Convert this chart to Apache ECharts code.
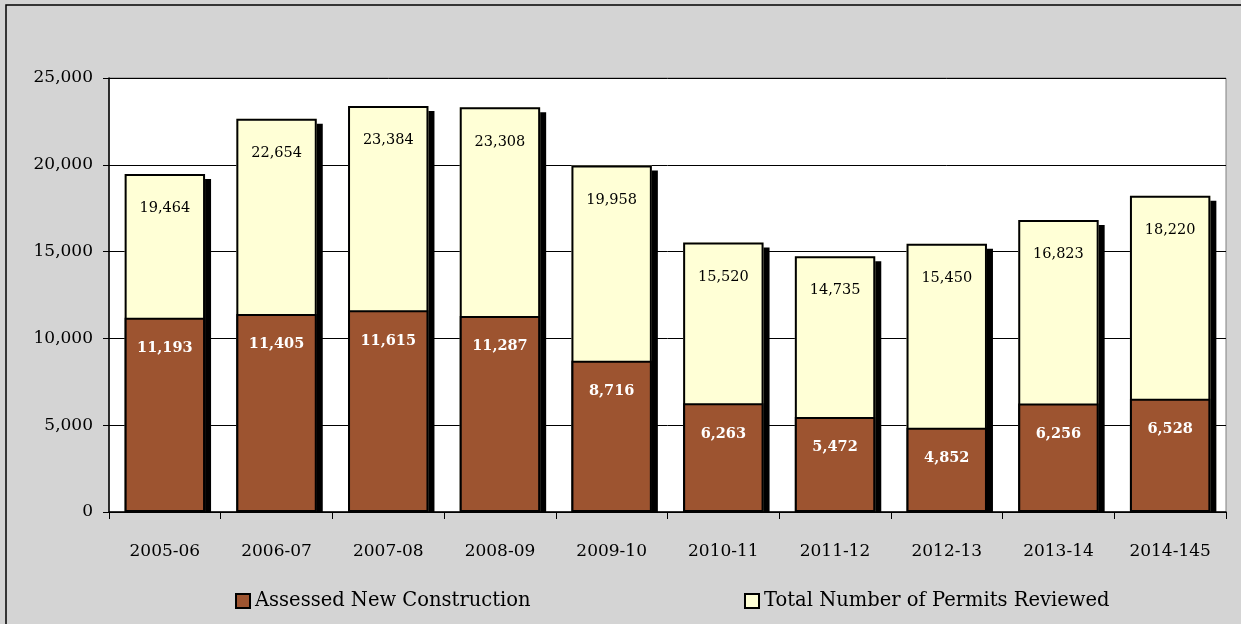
<!DOCTYPE html>
<html><head><meta charset="utf-8">
<script src="https://cdn.jsdelivr.net/npm/echarts@6/dist/echarts.min.js"></script>
<style>html,body{margin:0;padding:0;background:#d4d4d4}#c{width:1241px;height:624px}</style>
</head><body><div id="c"></div>
<script>
const categories = ['2005-06','2006-07','2007-08','2008-09','2009-10','2010-11','2011-12','2012-13','2013-14','2014-145'];
const assessedNew = [11193,11405,11615,11287,8716,6263,5472,4852,6256,6528];
const totalReviewed = [19464,22654,23384,23308,19958,15520,14735,15450,16823,18220];
const yTicks = {min:0, max:25000, interval:5000};
const FONT = '"DejaVu Serif", serif';
const fmt = v => v.toLocaleString('en-US');
const chart = echarts.init(document.getElementById('c'));
chart.setOption({
  backgroundColor:'#d4d4d4',
  animation:false,
  textStyle:{fontFamily:FONT},
  graphic:[
    {type:'rect',shape:{x:6,y:5,width:1260,height:640},style:{fill:'none',stroke:'#000',lineWidth:1.5},z:-1},
    {type:'rect',shape:{x:109,y:513,width:1120,height:8},style:{fill:'#d4d4d4'},z:5}
  ],
  grid:{left:109,right:15,top:78,bottom:112,show:true,backgroundColor:'#fff',borderColor:'#808080',borderWidth:1},
  legend:[
    {data:['Assessed New Construction'],left:230,top:586,itemWidth:14,itemHeight:14,itemGap:6,icon:'rect',
     textStyle:{fontFamily:FONT,fontSize:19.5,color:'#000'},
     itemStyle:{borderColor:'#000',borderWidth:2}},
    {data:['Total Number of Permits Reviewed'],left:739,top:586,itemWidth:14,itemHeight:14,icon:'rect',
     textStyle:{fontFamily:FONT,fontSize:19.5,color:'#000'},
     itemStyle:{borderColor:'#000',borderWidth:2}}
  ],
  xAxis:{type:'category',data:categories,z:10,
    axisLine:{lineStyle:{color:'#000',width:1.5}},
    axisTick:{show:true,length:7,lineStyle:{color:'#000'}},
    axisLabel:{color:'#000',fontSize:17,margin:31,fontFamily:FONT}},
  yAxis:{type:'value',min:yTicks.min,max:yTicks.max,interval:yTicks.interval,
    axisLine:{show:true,lineStyle:{color:'#000',width:1.5}},
    axisTick:{show:true,length:6,lineStyle:{color:'#000'}},
    splitLine:{lineStyle:{color:'#000',width:1}},
    axisLabel:{color:'#000',fontSize:17,margin:16,fontFamily:FONT,formatter:v=>fmt(v)}},
  series:[
    {name:'shadow',type:'bar',data:totalReviewed,barWidth:'72%',barGap:'-100%',z:1,silent:true,
     itemStyle:{color:'#ffffd6',borderWidth:0,shadowColor:'#000',shadowOffsetX:6,shadowOffsetY:5,shadowBlur:0}},
    {name:'Total Number of Permits Reviewed',type:'bar',data:totalReviewed,barWidth:'72%',barGap:'-100%',z:2,
     itemStyle:{color:'#ffffd6',borderColor:'#000',borderWidth:2},
     label:{show:true,position:'insideTop',distance:27,color:'#000',fontSize:14.5,fontFamily:FONT,formatter:p=>fmt(p.value)}},
    {name:'Assessed New Construction',type:'bar',data:assessedNew,barWidth:'72%',barGap:'-100%',z:3,
     itemStyle:{color:'#9d5430',borderColor:'#000',borderWidth:2},
     label:{show:true,position:'insideTop',distance:23,color:'#fff',fontWeight:'bold',fontSize:14.5,fontFamily:FONT,formatter:p=>fmt(p.value)}}
  ]
});
</script></body></html>
